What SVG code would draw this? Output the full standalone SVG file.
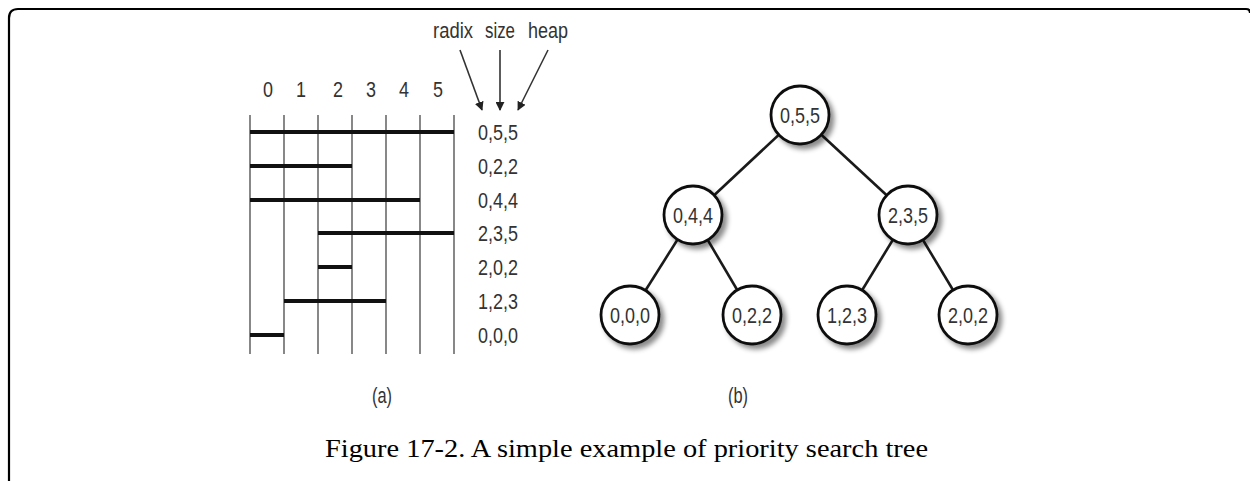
<svg xmlns="http://www.w3.org/2000/svg" width="1250" height="481" viewBox="0 0 1250 481">
<style>
.lbl{font-family:"Liberation Sans",Arial,sans-serif;font-size:22px;fill:#333}
.mid{text-anchor:middle}
.grid{stroke:#6a6a6a;stroke-width:1.6}
.bar{stroke:#111;stroke-width:4}
.edge{stroke:#1a1a1a;stroke-width:2.6}
.node{fill:#fff;stroke:#111;stroke-width:2.8}
.arr{stroke:#333;stroke-width:1.6;fill:none}
.cap{font-family:"Liberation Serif","Times New Roman",serif;font-size:26px;fill:#000}
</style>
<defs>
<marker id="ah" viewBox="0 0 10 10" refX="9" refY="5" markerWidth="9" markerHeight="9" markerUnits="userSpaceOnUse" orient="auto">
<path d="M0,0 L10,5 L0,10 z" fill="#222"/>
</marker>
<filter id="sh" x="-30%" y="-30%" width="170%" height="170%">
<feDropShadow dx="4" dy="4" stdDeviation="2.5" flood-color="#000" flood-opacity="0.45"/>
</filter>
</defs>
<rect x="0" y="0" width="1250" height="481" fill="#fff"/>
<path d="M9,481 L9,18 Q9,9 18,9 L1246,9 Q1250,9 1250,13" fill="none" stroke="#000" stroke-width="2.2"/>

<g id="panel-a">
<g id="columns">
<text class="lbl mid" x="268" y="97" textLength="10" lengthAdjust="spacingAndGlyphs">0</text>
<text class="lbl mid" x="301" y="97" textLength="10" lengthAdjust="spacingAndGlyphs">1</text>
<text class="lbl mid" x="338" y="97" textLength="10" lengthAdjust="spacingAndGlyphs">2</text>
<text class="lbl mid" x="371" y="97" textLength="10" lengthAdjust="spacingAndGlyphs">3</text>
<text class="lbl mid" x="404" y="97" textLength="10" lengthAdjust="spacingAndGlyphs">4</text>
<text class="lbl mid" x="438" y="97" textLength="10" lengthAdjust="spacingAndGlyphs">5</text>
</g>
<g id="grid">
<line class="grid" x1="250" y1="115" x2="250" y2="354"/>
<line class="grid" x1="284" y1="115" x2="284" y2="354"/>
<line class="grid" x1="318" y1="115" x2="318" y2="354"/>
<line class="grid" x1="352" y1="115" x2="352" y2="354"/>
<line class="grid" x1="386" y1="115" x2="386" y2="354"/>
<line class="grid" x1="420" y1="115" x2="420" y2="354"/>
<line class="grid" x1="454" y1="115" x2="454" y2="354"/>
</g>
<g id="bars">
<line class="bar" x1="250" y1="132" x2="454" y2="132"/>
<line class="bar" x1="250" y1="166" x2="352" y2="166"/>
<line class="bar" x1="250" y1="200" x2="420" y2="200"/>
<line class="bar" x1="318" y1="233" x2="454" y2="233"/>
<line class="bar" x1="318" y1="267" x2="352" y2="267"/>
<line class="bar" x1="284" y1="301" x2="386" y2="301"/>
<line class="bar" x1="250" y1="335" x2="284" y2="335"/>
</g>
<g id="rowlabels">
<text class="lbl" x="478" y="140" textLength="40" lengthAdjust="spacingAndGlyphs">0,5,5</text>
<text class="lbl" x="478" y="174" textLength="40" lengthAdjust="spacingAndGlyphs">0,2,2</text>
<text class="lbl" x="478" y="208" textLength="40" lengthAdjust="spacingAndGlyphs">0,4,4</text>
<text class="lbl" x="478" y="241" textLength="40" lengthAdjust="spacingAndGlyphs">2,3,5</text>
<text class="lbl" x="478" y="275" textLength="40" lengthAdjust="spacingAndGlyphs">2,0,2</text>
<text class="lbl" x="478" y="309" textLength="40" lengthAdjust="spacingAndGlyphs">1,2,3</text>
<text class="lbl" x="478" y="343" textLength="40" lengthAdjust="spacingAndGlyphs">0,0,0</text>
</g>
<g id="headers">
<text class="lbl" x="433" y="38" textLength="40" lengthAdjust="spacingAndGlyphs">radix</text>
<text class="lbl" x="485" y="38" textLength="30" lengthAdjust="spacingAndGlyphs">size</text>
<text class="lbl" x="528" y="38" textLength="40" lengthAdjust="spacingAndGlyphs">heap</text>
</g>
<text class="lbl mid" x="382" y="403" textLength="20" lengthAdjust="spacingAndGlyphs">(a)</text>
</g>

<g id="connectors">
<line class="arr" x1="460" y1="50" x2="482" y2="110" marker-end="url(#ah)"/>
<line class="arr" x1="500" y1="50" x2="500" y2="110" marker-end="url(#ah)"/>
<line class="arr" x1="548" y1="50" x2="518" y2="110" marker-end="url(#ah)"/>
<line class="edge" x1="800" y1="115" x2="693" y2="215"/>
<line class="edge" x1="800" y1="115" x2="908" y2="215"/>
<line class="edge" x1="693" y1="215" x2="630" y2="315"/>
<line class="edge" x1="693" y1="215" x2="752" y2="315"/>
<line class="edge" x1="908" y1="215" x2="847" y2="315"/>
<line class="edge" x1="908" y1="215" x2="968" y2="315"/>
</g>

<g id="n055"><circle class="node" cx="800" cy="115" r="29" filter="url(#sh)"/><text class="lbl mid" x="800" y="123" textLength="40" lengthAdjust="spacingAndGlyphs">0,5,5</text></g>
<g id="n044"><circle class="node" cx="693" cy="215" r="29" filter="url(#sh)"/><text class="lbl mid" x="693" y="223" textLength="40" lengthAdjust="spacingAndGlyphs">0,4,4</text></g>
<g id="n235"><circle class="node" cx="908" cy="215" r="29" filter="url(#sh)"/><text class="lbl mid" x="908" y="223" textLength="40" lengthAdjust="spacingAndGlyphs">2,3,5</text></g>
<g id="n000"><circle class="node" cx="630" cy="315" r="29" filter="url(#sh)"/><text class="lbl mid" x="630" y="323" textLength="40" lengthAdjust="spacingAndGlyphs">0,0,0</text></g>
<g id="n022"><circle class="node" cx="752" cy="315" r="29" filter="url(#sh)"/><text class="lbl mid" x="752" y="323" textLength="40" lengthAdjust="spacingAndGlyphs">0,2,2</text></g>
<g id="n123"><circle class="node" cx="847" cy="315" r="29" filter="url(#sh)"/><text class="lbl mid" x="847" y="323" textLength="40" lengthAdjust="spacingAndGlyphs">1,2,3</text></g>
<g id="n202"><circle class="node" cx="968" cy="315" r="29" filter="url(#sh)"/><text class="lbl mid" x="968" y="323" textLength="40" lengthAdjust="spacingAndGlyphs">2,0,2</text></g>

<text class="lbl mid" x="738" y="403" textLength="20" lengthAdjust="spacingAndGlyphs">(b)</text>
<text class="cap" x="325" y="457" textLength="603" lengthAdjust="spacingAndGlyphs">Figure 17-2. A simple example of priority search tree</text>
</svg>
